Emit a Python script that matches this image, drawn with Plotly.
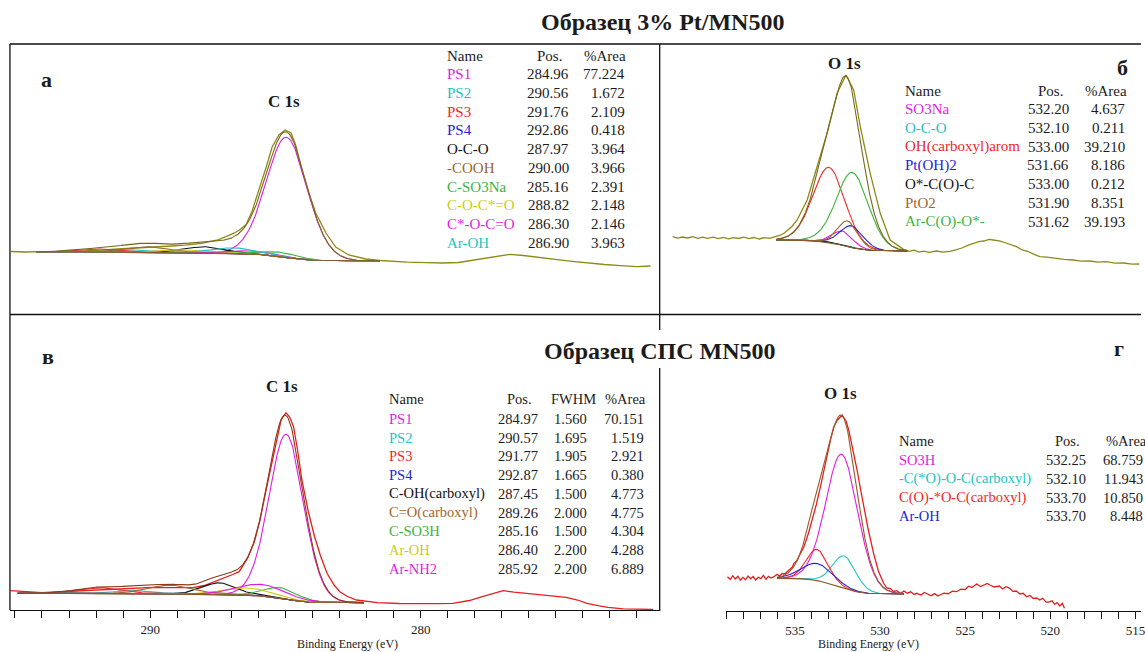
import numpy as np
import plotly.graph_objects as go

W, H = 1145, 652
SERIF = "Liberation Serif"
INK = "#1c1c1c"

MAGENTA = "#e01ee0"
CYAN = "#22c4c4"
RED = "#f02828"
BLUE = "#2424d8"
BLACK = "#111111"
BROWN = "#a2652e"
GREEN = "#3cb43c"
YELLOW = "#cccc1a"
OLIVE = "#8e8a16"
SPEC_RED = "#e32020"
BG_BROWN = "#8b5a2b"

# ---------------- а: C 1s, sample 3% Pt/MN500 ----------------
c1s_pt_energy = [295.15, 294.6, 294.0, 293.4, 292.8, 292.2, 291.7, 291.2, 290.7, 290.2,
                 289.7, 289.2, 288.7, 288.4, 288.1, 287.8, 287.5, 287.2, 286.9, 286.7,
                 286.45, 286.23, 285.97, 285.71, 285.49, 285.24, 285.01, 284.79, 284.61, 284.39,
                 284.13, 283.88, 283.5, 283.14, 282.66, 282.03, 281.5, 281.07, 280.5, 279.8,
                 279.2, 278.6, 278.1, 277.7, 277.2, 276.7, 276.2, 275.8, 275.4, 274.8,
                 274.3, 273.8, 273.2, 272.6, 272.0, 271.5]
c1s_pt_counts = [62.5, 62.0, 62.3, 61.8, 62.6, 63.2, 64.0, 65.0, 65.6, 66.3,
                 67.2, 68.0, 68.8, 69.6, 70.6, 72.3, 74.2, 77.3, 80.8, 84.0,
                 89.5, 103, 124, 147, 167, 179, 184, 181, 168, 145,
                 121, 101, 81, 67, 59, 55, 53.5, 52.5, 51.8, 51.3,
                 51.0, 51.5, 53.5, 55.7, 57.8, 59.7, 58.5, 57.0, 55.8, 53.8,
                 52.3, 50.7, 49.5, 48.4, 47.4, 48.0]
c1s_pt_names = ["PS1", "PS2", "PS3", "PS4", "O-C-O", "-COOH", "C-SO3Na",
                "C-O-C*=O", "C*-O-C=O", "Ar-OH"]
c1s_pt_pos = [284.96, 290.56, 291.76, 292.86, 287.97, 290.00, 285.16, 288.82, 286.30, 286.90]
c1s_pt_area = [77.224, 1.672, 2.109, 0.418, 3.964, 3.966, 2.391, 2.148, 2.146, 3.963]
c1s_pt_fwhm = [1.85, 1.8, 1.9, 1.8, 1.8, 2.0, 1.6, 2.0, 2.0, 2.0]
c1s_pt_colors = [MAGENTA, CYAN, RED, BLUE, BLACK, BROWN, GREEN, YELLOW, MAGENTA, CYAN]
c1s_pt_region = [294.2, 281.5]
c1s_pt_bg_levels = [62.0, 53.0]
c1s_pt_scale = 3.0

# ---------------- б: O 1s, sample 3% Pt/MN500 ----------------
o1s_pt_energy = [542.18, 541.9, 541.6, 541.3, 541.0, 540.7, 540.4, 540.13, 539.8, 539.5,
                 539.2, 538.9, 538.6, 538.3, 538.0, 537.7, 537.4, 537.1, 536.8, 536.5,
                 536.2, 535.9, 535.64, 535.2, 534.87, 534.28, 533.7, 533.11, 532.52, 532.0,
                 531.55, 531.16, 530.58, 529.99, 529.41, 528.62, 528.3, 528.0, 527.7, 527.45,
                 527.1, 526.7, 526.3, 525.9, 525.55, 525.2, 524.85, 524.53, 524.2, 523.9,
                 523.6, 523.36, 523.0, 522.7, 522.35, 521.99, 521.65, 521.3, 520.95, 520.63,
                 520.2, 519.7, 519.2, 518.67, 518.2, 517.7, 517.2, 516.73, 516.2, 515.7,
                 515.2, 514.78]
o1s_pt_counts = [77.3, 75.8, 77.0, 76.0, 77.4, 75.6, 76.8, 75.7, 76.9, 75.4,
                 76.6, 75.2, 76.4, 75.5, 76.8, 75.3, 76.5, 75.0, 76.3, 75.6,
                 77.2, 78.5, 80.7, 87, 94, 114, 147.3, 180.7, 220.7, 239,
                 224, 187.3, 140.7, 100.7, 74, 64.7, 62.6, 63.8, 61.9, 62.8,
                 61.7, 63.0, 61.8, 62.6, 64.2, 66.0, 68.6, 70.7, 72.4, 73.0,
                 74.6, 74.0, 73.2, 71.5, 69.8, 67.3, 64.0, 62.5, 59.6, 57.3,
                 56.8, 55.5, 54.6, 54.0, 52.8, 53.0, 51.9, 52.3, 50.8, 51.0,
                 49.8, 50.0]
o1s_pt_names = ["SO3Na", "O-C-O", "OH(carboxyl)arom", "Pt(OH)2", "O*-C(O)-C", "PtO2", "Ar-C(O)-O*-"]
o1s_pt_pos = [532.20, 532.10, 533.00, 531.66, 533.00, 531.90, 531.62]
o1s_pt_area = [4.637, 0.211, 39.210, 8.186, 0.212, 8.351, 39.193]
o1s_pt_fwhm = [1.44, 1.5, 2.3, 1.66, 1.5, 1.43, 2.3]
o1s_pt_colors = [MAGENTA, CYAN, RED, BLUE, BLACK, BROWN, GREEN]
o1s_pt_region = [536.1, 528.4]
o1s_pt_bg_levels = [74.0, 63.0]
o1s_pt_scale = 4.6

# ---------------- в: C 1s, sample СПС MN500 ----------------
c1s_sps_energy = [295.17, 294.6, 294.0, 293.5, 292.9, 292.46, 291.9, 291.4, 290.91, 290.4,
                  289.9, 289.36, 288.9, 288.42, 288.0, 287.6, 287.34, 286.95, 286.71, 286.4,
                  286.15, 285.94, 285.7, 285.47, 285.3, 285.16, 284.98, 284.84, 284.7, 284.55,
                  284.39, 284.15, 283.92, 283.7, 283.46, 283.2, 282.99, 282.7, 282.37, 281.6,
                  280.8, 280.04, 279.4, 278.81, 278.2, 277.72, 277.3, 276.95, 276.55, 276.17,
                  275.8, 275.4, 274.62, 274.2, 273.85, 273.4, 273.07, 272.5, 271.97, 271.4]
c1s_sps_counts = [19.3, 18.5, 17.3, 18.0, 18.8, 19.3, 20.5, 21.3, 21.7, 22.0,
                  22.6, 22.3, 22.0, 22.3, 24.5, 28.5, 31.7, 35.5, 38.3, 51.7,
                  68, 90, 122, 150, 172, 190, 197.3, 193, 183.3, 160,
                  130, 98, 73.3, 54, 36.7, 25, 18.3, 13.5, 10, 7.3,
                  6.5, 6.0, 6.3, 6.7, 9.5, 13.3, 17, 19.3, 17.8, 16.7,
                  15.8, 15, 12.7, 10, 6.7, 4.2, 2.7, 1.2, 0.7, 0.5]
c1s_sps_names = ["PS1", "PS2", "PS3", "PS4", "C-OH(carboxyl)", "C=O(carboxyl)",
                 "C-SO3H", "Ar-OH", "Ar-NH2"]
c1s_sps_pos = [284.97, 290.57, 291.77, 292.87, 287.45, 289.26, 285.16, 286.40, 285.92]
c1s_sps_fwhm = [1.560, 1.695, 1.905, 1.665, 1.500, 2.000, 1.500, 2.200, 2.200]
c1s_sps_area = [70.151, 1.519, 2.921, 0.380, 4.773, 4.775, 4.304, 4.288, 6.889]
c1s_sps_colors = [MAGENTA, CYAN, RED, BLUE, BLACK, BROWN, GREEN, YELLOW, MAGENTA]
c1s_sps_region = [294.9, 282.1]
c1s_sps_bg_levels = [16.7, 7.3]
c1s_sps_scale = 3.82

# ---------------- г: O 1s, sample СПС MN500 ----------------
o1s_sps_energy = [538.96, 538.8, 538.65, 538.5, 538.35, 538.2, 538.05, 537.9, 537.75, 537.6,
                  537.45, 537.3, 537.15, 537.0, 536.85, 536.7, 536.55, 536.4, 536.23, 536.05,
                  535.9, 535.75, 535.6, 535.45, 535.3, 535.15, 535.06, 534.9, 534.75, 534.47,
                  534.2, 533.99, 533.75, 533.5, 533.3, 533.11, 532.9, 532.72, 532.5, 532.23,
                  532.0, 531.84, 531.6, 531.35, 531.15, 530.96, 530.7, 530.38, 530.1, 529.79,
                  529.6, 529.4, 529.2, 529.01, 528.8, 528.6, 528.4, 528.2, 528.0, 527.84,
                  527.6, 527.4, 527.2, 527.0, 526.8, 526.6, 526.48, 526.25, 526.0, 525.75,
                  525.5, 525.25, 525.0, 524.8, 524.6, 524.33, 524.1, 523.9, 523.7, 523.55,
                  523.3, 523.0, 522.8, 522.6, 522.38, 522.2, 522.0, 521.8, 521.6, 521.4,
                  521.2, 521.0, 520.8, 520.63, 520.45, 520.25, 520.1, 519.9, 519.75, 519.6,
                  519.45, 519.3, 519.17]
o1s_sps_counts = [34.3, 31.5, 35.2, 32.0, 34.8, 30.8, 33.6, 31.2, 35.0, 32.2,
                  34.5, 31.0, 33.8, 32.4, 35.6, 31.8, 34.6, 33.0, 34.3, 36.8,
                  35.0, 37.5, 37.0, 39.3, 41.5, 44.0, 47.7, 50.0, 55.0, 64.3,
                  78, 91, 106, 124.3, 141, 157.7, 172, 184.3, 191, 196,
                  190, 181, 163, 141, 122, 104.3, 82, 57.7, 40, 27.7,
                  23.0, 22.5, 19.5, 20.3, 17.6, 20.0, 17.8, 19.2, 16.4, 17.7,
                  15.9, 18.6, 17.0, 15.2, 17.4, 15.0, 16.0, 17.9, 17.3, 19.8,
                  19.3, 21.8, 21.5, 24.8, 23.6, 27.0, 24.5, 26.0, 27.5, 26.0,
                  24.0, 25.0, 22.0, 24.3, 22.7, 19.6, 20.0, 17.0, 17.7, 14.2,
                  15.6, 12.5, 13.0, 11.0, 12.6, 8.8, 9.0, 10.2, 6.8, 8.4,
                  5.0, 7.6, 2.7]
o1s_sps_names = ["SO3H", "-C(*O)-O-C(carboxyl)", "C(O)-*O-C(carboxyl)", "Ar-OH"]
o1s_sps_pos = [532.25, 532.10, 533.70, 533.70]
o1s_sps_area = [68.759, 11.943, 10.850, 8.448]
o1s_sps_fwhm = [2.3, 1.65, 1.55, 2.2]
o1s_sps_colors = [MAGENTA, CYAN, RED, BLUE]
o1s_sps_region = [536.05, 528.6]
o1s_sps_bg_levels = [32.7, 17.0]
o1s_sps_scale = 4.64

c1s_tick_labels = [290, 280]
o1s_tick_labels = [535, 530, 525, 520, 515]

# energy-axis calibration of the two columns (pixel of a reference energy, px per eV)
C1S_REF_E, C1S_REF_PX, C1S_PX_PER_EV = 290.0, 150.7, 27.14
O1S_REF_E, O1S_REF_PX, O1S_PX_PER_EV = 535.0, 797.7, 17.09


def c1s_e(px):
    return C1S_REF_E - (px - C1S_REF_PX) / C1S_PX_PER_EV


def o1s_e(px):
    return O1S_REF_E - (px - O1S_REF_PX) / O1S_PX_PER_EV


def gl(x, pos, fwhm, mix=0.3):
    """Gaussian-Lorentzian product line shape GL(30), unit height."""
    u2 = ((x - pos) / fwhm) ** 2
    return np.exp(-4 * np.log(2) * (1 - mix) * u2) / (1 + 4 * mix * u2)


def unit_area(fwhm):
    xs = np.linspace(-12 * fwhm, 12 * fwhm, 6001)
    return np.trapezoid(gl(xs, 0.0, fwhm), xs)


def fit_model(pos, fwhm, area, scale, region, bg_levels, n=600):
    e = np.linspace(min(region), max(region), n)
    comps = [scale * a / unit_area(f) * gl(e, p, f) for p, f, a in zip(pos, fwhm, area)]
    total = np.sum(comps, axis=0)
    # Shirley-type background: grows with the integrated peak area from the low-BE side
    cum = np.concatenate([[0.0], np.cumsum(0.5 * (total[1:] + total[:-1]) * np.diff(e))])
    hi_level, lo_level = bg_levels
    bg = lo_level + (hi_level - lo_level) * cum / cum[-1]
    return e, bg, comps, bg + total


fig = go.Figure()


def add_spectrum(xa, ya, energy, counts, pos, fwhm, area, colors, region, bg_levels,
                 scale, spec_color, env_color):
    e, bg, comps, env = fit_model(pos, fwhm, area, scale, region, bg_levels)
    common = dict(mode="lines", xaxis=xa, yaxis=ya, showlegend=False, hoverinfo="skip")
    fig.add_trace(go.Scatter(x=energy, y=counts, line=dict(color=spec_color, width=1.3), **common))
    for c, col in zip(comps, colors):
        fig.add_trace(go.Scatter(x=e, y=bg + c, line=dict(color=col, width=1.1), **common))
    fig.add_trace(go.Scatter(x=e, y=bg, line=dict(color=BG_BROWN, width=1.2), **common))
    fig.add_trace(go.Scatter(x=e, y=env, line=dict(color=env_color, width=1.1), **common))


add_spectrum("x", "y", c1s_pt_energy, c1s_pt_counts, c1s_pt_pos, c1s_pt_fwhm, c1s_pt_area,
             c1s_pt_colors, c1s_pt_region, c1s_pt_bg_levels, c1s_pt_scale, OLIVE, "#7a6618")
add_spectrum("x2", "y2", o1s_pt_energy, o1s_pt_counts, o1s_pt_pos, o1s_pt_fwhm, o1s_pt_area,
             o1s_pt_colors, o1s_pt_region, o1s_pt_bg_levels, o1s_pt_scale, OLIVE, "#7a6618")
add_spectrum("x3", "y3", c1s_sps_energy, c1s_sps_counts, c1s_sps_pos, c1s_sps_fwhm, c1s_sps_area,
             c1s_sps_colors, c1s_sps_region, c1s_sps_bg_levels, c1s_sps_scale, SPEC_RED, "#8b3a1a")
add_spectrum("x4", "y4", o1s_sps_energy, o1s_sps_counts, o1s_sps_pos, o1s_sps_fwhm, o1s_sps_area,
             o1s_sps_colors, o1s_sps_region, o1s_sps_bg_levels, o1s_sps_scale, SPEC_RED, "#9a5a2a")


def xdom(a, b):
    return [a / W, b / W]


def ydom(top, bottom):
    return [1 - bottom / H, 1 - top / H]


hidden = dict(visible=False, showgrid=False, zeroline=False)
tickfont = dict(family=SERIF, size=13, color=INK)


def energy_axis(domain, rng, ticks, labels):
    return dict(domain=domain, range=rng, showgrid=False, zeroline=False,
                showline=True, linecolor="#111111", linewidth=1,
                ticks="outside", ticklen=7, tickwidth=1, tickcolor="#111111",
                tickmode="array", tickvals=ticks,
                ticktext=[str(t) if t in labels else "" for t in ticks],
                tickfont=tickfont, ticklabelstandoff=0, ticklabeloverflow="allow")


c1s_ticks = list(range(272, 296))
o1s_ticks = list(range(515, 540))

layout_axes = dict(
    xaxis=dict(domain=xdom(10, 662), range=[c1s_e(10), c1s_e(662)], anchor="y", **hidden),
    yaxis=dict(domain=ydom(44, 314), range=[0, 270], anchor="x", **hidden),
    xaxis2=dict(domain=xdom(662, 1145), range=[o1s_e(662), o1s_e(1145)], anchor="y2", **hidden),
    yaxis2=dict(domain=ydom(44, 314), range=[0, 270], anchor="x2", **hidden),
    xaxis3=dict(anchor="y3", **energy_axis(xdom(10, 662), [c1s_e(10), c1s_e(662)],
                                           c1s_ticks, c1s_tick_labels)),
    yaxis3=dict(domain=ydom(315, 610), range=[0, 295], anchor="x3", **hidden),
    xaxis4=dict(anchor="y4", **energy_axis(xdom(729, 1145), [o1s_e(729), o1s_e(1145)],
                                           o1s_ticks, o1s_tick_labels)),
    yaxis4=dict(domain=ydom(315, 611), range=[0, 296], anchor="x4", **hidden),
)

annotations = []


def txt(x, y, s, size=15, color=INK, anchor="left", bold=False):
    annotations.append(dict(
        x=x / W, y=1 - y / H, xref="paper", yref="paper",
        text=f"<b>{s}</b>" if bold else s, showarrow=False,
        xanchor=anchor, yanchor="middle",
        font=dict(family=SERIF, size=size, color=color)))


# titles, panel letters and line labels
txt(665, 22, "Образец 3% Pt/MN500", size=24, anchor="center", bold=True)
txt(662, 351, "Образец СПС MN500", size=24, anchor="center", bold=True)
txt(47, 80, "а", size=22, anchor="center", bold=True)
txt(1126, 68, "б", size=22, anchor="center", bold=True)
txt(48, 357, "в", size=22, anchor="center", bold=True)
txt(1123, 348, "г", size=22, anchor="center", bold=True)
txt(285, 101, "C 1s", size=17, anchor="center", bold=True)
txt(847, 63, "O 1s", size=17, anchor="center", bold=True)
txt(283, 386, "C 1s", size=17, anchor="center", bold=True)
txt(843, 393, "O 1s", size=17, anchor="center", bold=True)
txt(349, 644, "Binding Energy (eV)", size=12, anchor="center")
txt(872, 644, "Binding Energy (eV)", size=12, anchor="center")

# peak tables
fs = 15
txt(447, 56, "Name", fs)
txt(551, 56, "Pos.", fs, anchor="center")
txt(630, 56, "%Area", fs, anchor="right")
for i, (n, p, a, c) in enumerate(zip(c1s_pt_names, c1s_pt_pos, c1s_pt_area, c1s_pt_colors)):
    y = 74.2 + 18.75 * i
    txt(447, y, n, fs, color=c)
    txt(573, y, f"{p:.2f}", fs, anchor="right")
    txt(629.5, y, f"{a:.3f}", fs, anchor="right")

txt(906, 91, "Name", fs)
txt(1054, 91, "Pos.", fs, anchor="center")
txt(1133, 91, "%Area", fs, anchor="right")
for i, (n, p, a, c) in enumerate(zip(o1s_pt_names, o1s_pt_pos, o1s_pt_area, o1s_pt_colors)):
    y = 109.3 + 18.7 * i
    txt(906, y, n, fs, color=c)
    txt(1075, y, f"{p:.2f}", fs, anchor="right")
    txt(1131, y, f"{a:.3f}", fs, anchor="right")

fs2 = 14.5
txt(388, 399.3, "Name", fs2)
txt(521.7, 399.3, "Pos.", fs2, anchor="center")
txt(575.7, 399.3, "FWHM", fs2, anchor="center")
txt(650, 399.3, "%Area", fs2, anchor="right")
for i, (n, p, f, a, c) in enumerate(zip(c1s_sps_names, c1s_sps_pos, c1s_sps_fwhm,
                                        c1s_sps_area, c1s_sps_colors)):
    y = 419 + 18.7 * i
    txt(388, y, n, fs2, color=c)
    txt(541.7, y, f"{p:.2f}", fs2, anchor="right")
    txt(591, y, f"{f:.3f}", fs2, anchor="right")
    txt(648.5, y, f"{a:.3f}", fs2, anchor="right")

txt(900, 441, "Name", fs2)
txt(1071.7, 441, "Pos.", fs2, anchor="center")
txt(1108, 441, "%Area", fs2, anchor="left")
for i, (n, p, a, c) in enumerate(zip(o1s_sps_names, o1s_sps_pos, o1s_sps_area, o1s_sps_colors)):
    y = 460 + 18.8 * i
    txt(900, y, n, fs2, color=c)
    txt(1092, y, f"{p:.2f}", fs2, anchor="right")
    txt(1149, y, f"{a:.3f}", fs2, anchor="right")


def seg(x0, y0, x1, y1):
    return dict(type="line", xref="paper", yref="paper",
                x0=x0 / W, y0=1 - y0 / H, x1=x1 / W, y1=1 - y1 / H,
                line=dict(color="#111111", width=1.3))


shapes = [
    seg(10, 44, 1145, 44),
    seg(10, 44, 10, 610),
    seg(662, 44, 662, 330),
    seg(662, 368, 662, 611),
    seg(10, 314.5, 1145, 314.5),
]

fig.update_layout(
    width=W, height=H,
    margin=dict(l=0, r=0, t=0, b=0),
    paper_bgcolor="white", plot_bgcolor="white",
    showlegend=False,
    annotations=annotations,
    shapes=shapes,
    **layout_axes,
)

fig.write_html("out.html", config={"displayModeBar": False})
